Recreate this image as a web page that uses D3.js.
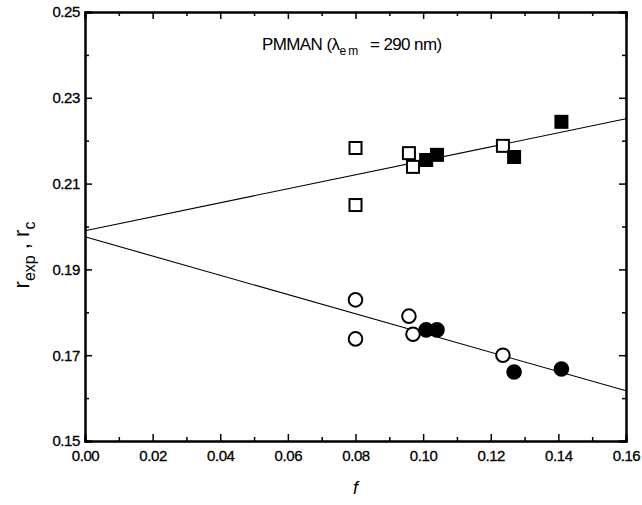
<!DOCTYPE html>
<html>
<head>
<meta charset="utf-8">
<script src="https://cdn.jsdelivr.net/npm/d3@7"></script>
<style>
  body { margin:0; background:#fff; }
  svg text { font-family:"Liberation Sans", Arial, sans-serif; fill:#000; }
</style>
</head>
<body>
<div id="chart"></div>
<script>
// data
var openSquares   = [[0.080, 0.2183], [0.080, 0.2050], [0.0958, 0.2171], [0.0970, 0.2139], [0.1236, 0.2188]];
var filledSquares = [[0.1009, 0.2155], [0.1041, 0.2167], [0.1269, 0.2162], [0.1409, 0.2244]];
var openCircles   = [[0.080, 0.1829], [0.080, 0.1738], [0.0958, 0.1791], [0.0970, 0.1749], [0.1236, 0.1700]];
var filledCircles = [[0.1009, 0.1759], [0.1041, 0.1759], [0.1269, 0.1661], [0.1409, 0.1668]];
var upperFit = [[0, 0.1990], [0.16, 0.2251]];
var lowerFit = [[0, 0.1976], [0.16, 0.1617]];
var xTicks = [0, 0.02, 0.04, 0.06, 0.08, 0.10, 0.12, 0.14, 0.16];
var yTicks = [0.15, 0.17, 0.19, 0.21, 0.23, 0.25];

var W = 642, H = 505;
var m = {left:85, right:16, top:12, bottom:64};

var svg = d3.select('#chart').append('svg')
  .attr('width', W)
  .attr('height', H);

var x = d3.scaleLinear().domain([0, 0.16]).range([m.left, W - m.right]);
var y = d3.scaleLinear().domain([0.15, 0.25]).range([H - m.bottom, m.top]);

var xMinor = d3.range(0.01, 0.16, 0.02);
var yMinor = d3.range(0.16, 0.25, 0.02);

// axes, ticks pointing inside
svg.append('g').attr('transform', 'translate(0,' + y(0.15) + ')')
  .call(d3.axisBottom(x).tickValues(xTicks).tickSize(-7).tickPadding(6).tickFormat(d3.format('.2f')))
  .attr('class', 'xax');
svg.append('g').attr('transform', 'translate(0,' + y(0.15) + ')')
  .call(d3.axisBottom(x).tickValues(xMinor).tickSize(-4).tickFormat(''));
svg.append('g').attr('transform', 'translate(0,' + y(0.25) + ')')
  .call(d3.axisTop(x).tickValues(xTicks).tickSize(-7).tickFormat(''));
svg.append('g').attr('transform', 'translate(0,' + y(0.25) + ')')
  .call(d3.axisTop(x).tickValues(xMinor).tickSize(-4).tickFormat(''));

svg.append('g').attr('transform', 'translate(' + x(0) + ',0)')
  .call(d3.axisLeft(y).tickValues(yTicks).tickSize(-7).tickPadding(5).tickFormat(d3.format('.2f')))
  .attr('class', 'yax');
svg.append('g').attr('transform', 'translate(' + x(0) + ',0)')
  .call(d3.axisLeft(y).tickValues(yMinor).tickSize(-4).tickFormat(''));
svg.append('g').attr('transform', 'translate(' + x(0.16) + ',0)')
  .call(d3.axisRight(y).tickValues(yTicks).tickSize(-7).tickFormat(''));
svg.append('g').attr('transform', 'translate(' + x(0.16) + ',0)')
  .call(d3.axisRight(y).tickValues(yMinor).tickSize(-4).tickFormat(''));

svg.selectAll('.domain').attr('stroke', '#000').attr('stroke-width', 2);
svg.selectAll('.tick line').attr('stroke', '#000').attr('stroke-width', 1.5);
svg.selectAll('.tick text')
  .style('font-family', '"Liberation Sans", Arial, sans-serif')
  .style('font-size', '15px')
  .style('letter-spacing', '-0.4px')
  .attr('stroke', '#000').attr('stroke-width', 0.3);
svg.selectAll('.xax .tick text').attr('dy', '0.95em');
svg.selectAll('.yax .tick text').attr('dy', '0.32em');

// fit lines
var line = d3.line().x(function(d) { return x(d[0]); }).y(function(d) { return y(d[1]); });
[upperFit, lowerFit].forEach(function(f) {
  svg.append('path').attr('d', line(f))
    .attr('fill', 'none').attr('stroke', '#000').attr('stroke-width', 1.1);
});

// markers
var sq = 12;
function squares(data, fill) {
  svg.selectAll(null).data(data).enter().append('rect')
    .attr('x', function(d) { return x(d[0]) - sq / 2; })
    .attr('y', function(d) { return y(d[1]) - sq / 2; })
    .attr('width', sq).attr('height', sq)
    .attr('fill', fill).attr('stroke', '#000').attr('stroke-width', 2);
}
function circles(data, fill) {
  svg.selectAll(null).data(data).enter().append('circle')
    .attr('cx', function(d) { return x(d[0]); })
    .attr('cy', function(d) { return y(d[1]); })
    .attr('r', 6.8)
    .attr('fill', fill).attr('stroke', '#000').attr('stroke-width', 2);
}
squares(openSquares, '#fff');
squares(filledSquares, '#000');
circles(openCircles, '#fff');
circles(filledCircles, '#000');

// annotation
var t = svg.append('text').attr('x', 262).attr('y', 50)
  .style('font-size', '17px').style('letter-spacing', '-0.6px')
  .style('white-space', 'pre');
t.append('tspan').text('PMMAN (λ');
t.append('tspan').attr('dy', 5).style('font-size', '12px').text('e m');
t.append('tspan').attr('dy', -5).text('   = 290 nm)');

// axis titles
svg.append('text').attr('x', x(0.08)).attr('y', 494)
  .attr('text-anchor', 'middle')
  .style('font-size', '18px').style('font-style', 'italic').text('f');

var yl = svg.append('text')
  .attr('transform', 'translate(29,' + 255 + ') rotate(-90)')
  .attr('text-anchor', 'middle')
  .style('font-size', '22px');
yl.append('tspan').text('r');
yl.append('tspan').attr('dy', 6).style('font-size', '16px').text('exp');
yl.append('tspan').attr('dy', -6).text(' , r');
yl.append('tspan').attr('dy', 6).style('font-size', '16px').text('c');
</script>
</body>
</html>
